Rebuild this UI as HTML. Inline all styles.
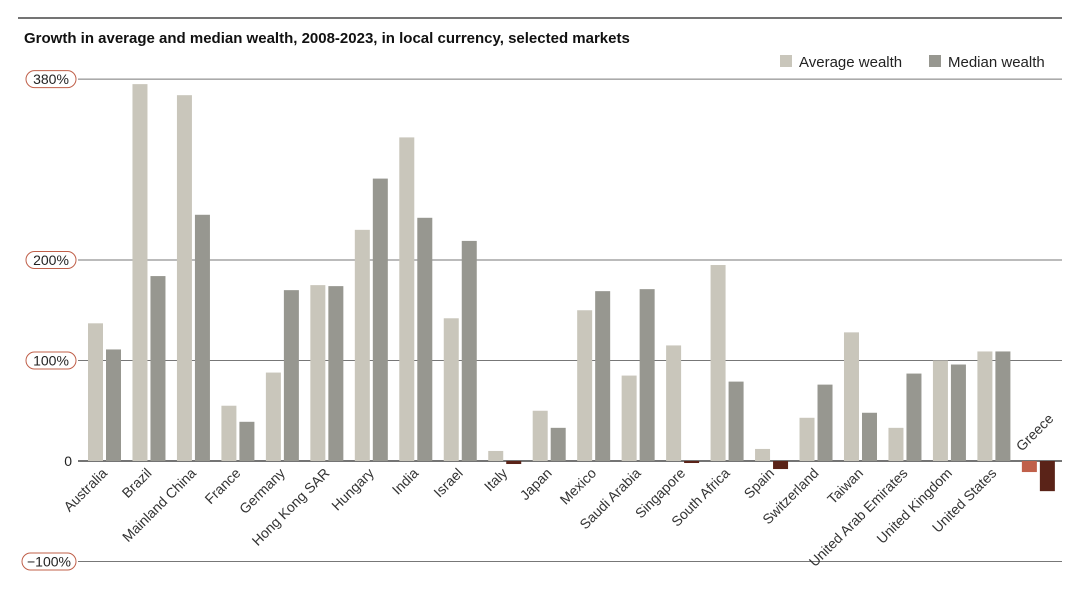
<!DOCTYPE html>
<html><head><meta charset="utf-8"><style>
body{margin:0;background:#fff;font-family:"Liberation Sans",sans-serif}
svg{display:block}
</style></head><body>
<svg id="c" width="1080" height="589">
<line x1="18" y1="18" x2="1062" y2="18" stroke="#222" stroke-width="1.2"/>
<text x="24" y="43" font-size="15" font-weight="bold" fill="#111">Growth in average and median wealth, 2008-2023, in local currency, selected markets</text>
<g>
<rect x="780" y="55" width="12" height="12" fill="#c9c6bb"/>
<text x="799" y="67" font-size="15" fill="#222">Average wealth</text>
<rect x="929" y="55" width="12" height="12" fill="#979790"/>
<text x="948" y="67" font-size="15" fill="#222">Median wealth</text>
</g>
<g id="grid"></g><g id="bars"></g><g id="labels"></g>
</svg>
<script>
const categories=["Australia","Brazil","Mainland China","France","Germany","Hong Kong SAR","Hungary","India","Israel","Italy","Japan","Mexico","Saudi Arabia","Singapore","South Africa","Spain","Switzerland","Taiwan","United Arab Emirates","United Kingdom","United States","Greece"];
const averageWealth=[137,375,364,55,88,175,230,322,142,10,50,150,85,115,195,12,43,128,33,100,109,-11];
const medianWealth=[111,184,245,39,170,174,281,242,219,-3,33,169,171,-2,79,-8,76,48,87,96,109,-30];
const tickValues=[380,200,100,0,-100];
const tickLabels=["380%","200%","100%","0","\u2212100%"];
const NS="http://www.w3.org/2000/svg";
function y(v){return 461-v*1.005;}
function x(i){return 104+i*44.47;}
function mk(t,a,p){const e=document.createElementNS(NS,t);for(const k in a)e.setAttribute(k,a[k]);p.appendChild(e);return e;}
const grid=document.getElementById('grid'),bars=document.getElementById('bars'),labels=document.getElementById('labels');
tickValues.forEach((v,i)=>{
 const l=mk('line',{x1:78,x2:1062,y1:y(v),y2:y(v),stroke:v===0?'#222':'#777','stroke-width':v===0?1.2:1},grid);
 
 
 const lab=tickLabels[i];
 let t;
 if(v!==0){
  const w=v<0?54:50;
  const r=mk('rect',{x:76-w,y:y(v)-8.5,width:w,height:17,rx:8.5,fill:'#fff',stroke:'#c0604a','stroke-width':1},grid);
  
  
  t=mk('text',{x:76-w/2,y:y(v)+5,'font-size':14,'text-anchor':'middle',fill:'#222'},grid);
 }else{
  t=mk('text',{x:72,y:y(v)+5,'font-size':14,'text-anchor':'end',fill:'#222'},grid);
 }
 t.textContent=lab;
 
 
});
categories.forEach((c,i)=>{
 const cx=x(i);
 [[averageWealth[i],cx-16,'#c9c6bb','#c0604a','avg'],[medianWealth[i],cx+2,'#979790','#5a2318','median']].forEach(([v,bx,col,neg,nm])=>{
  const r=mk('rect',{x:bx,y:Math.min(y(v),y(0)),width:15,height:Math.abs(y(v)-y(0)),fill:v<0?neg:col},bars);
  
  
 });
 let t;
 if(c==="Greece"){
  t=mk('text',{x:cx-16,y:452,'font-size':14,fill:'#333',transform:`rotate(-45 ${cx-16} 452)`},labels);
 }else{
  t=mk('text',{x:cx+4,y:474,'font-size':14,fill:'#333','text-anchor':'end',transform:`rotate(-45 ${cx+4} 474)`},labels);
 }
 t.textContent=c;
 
 
});
</script>
</body></html>
